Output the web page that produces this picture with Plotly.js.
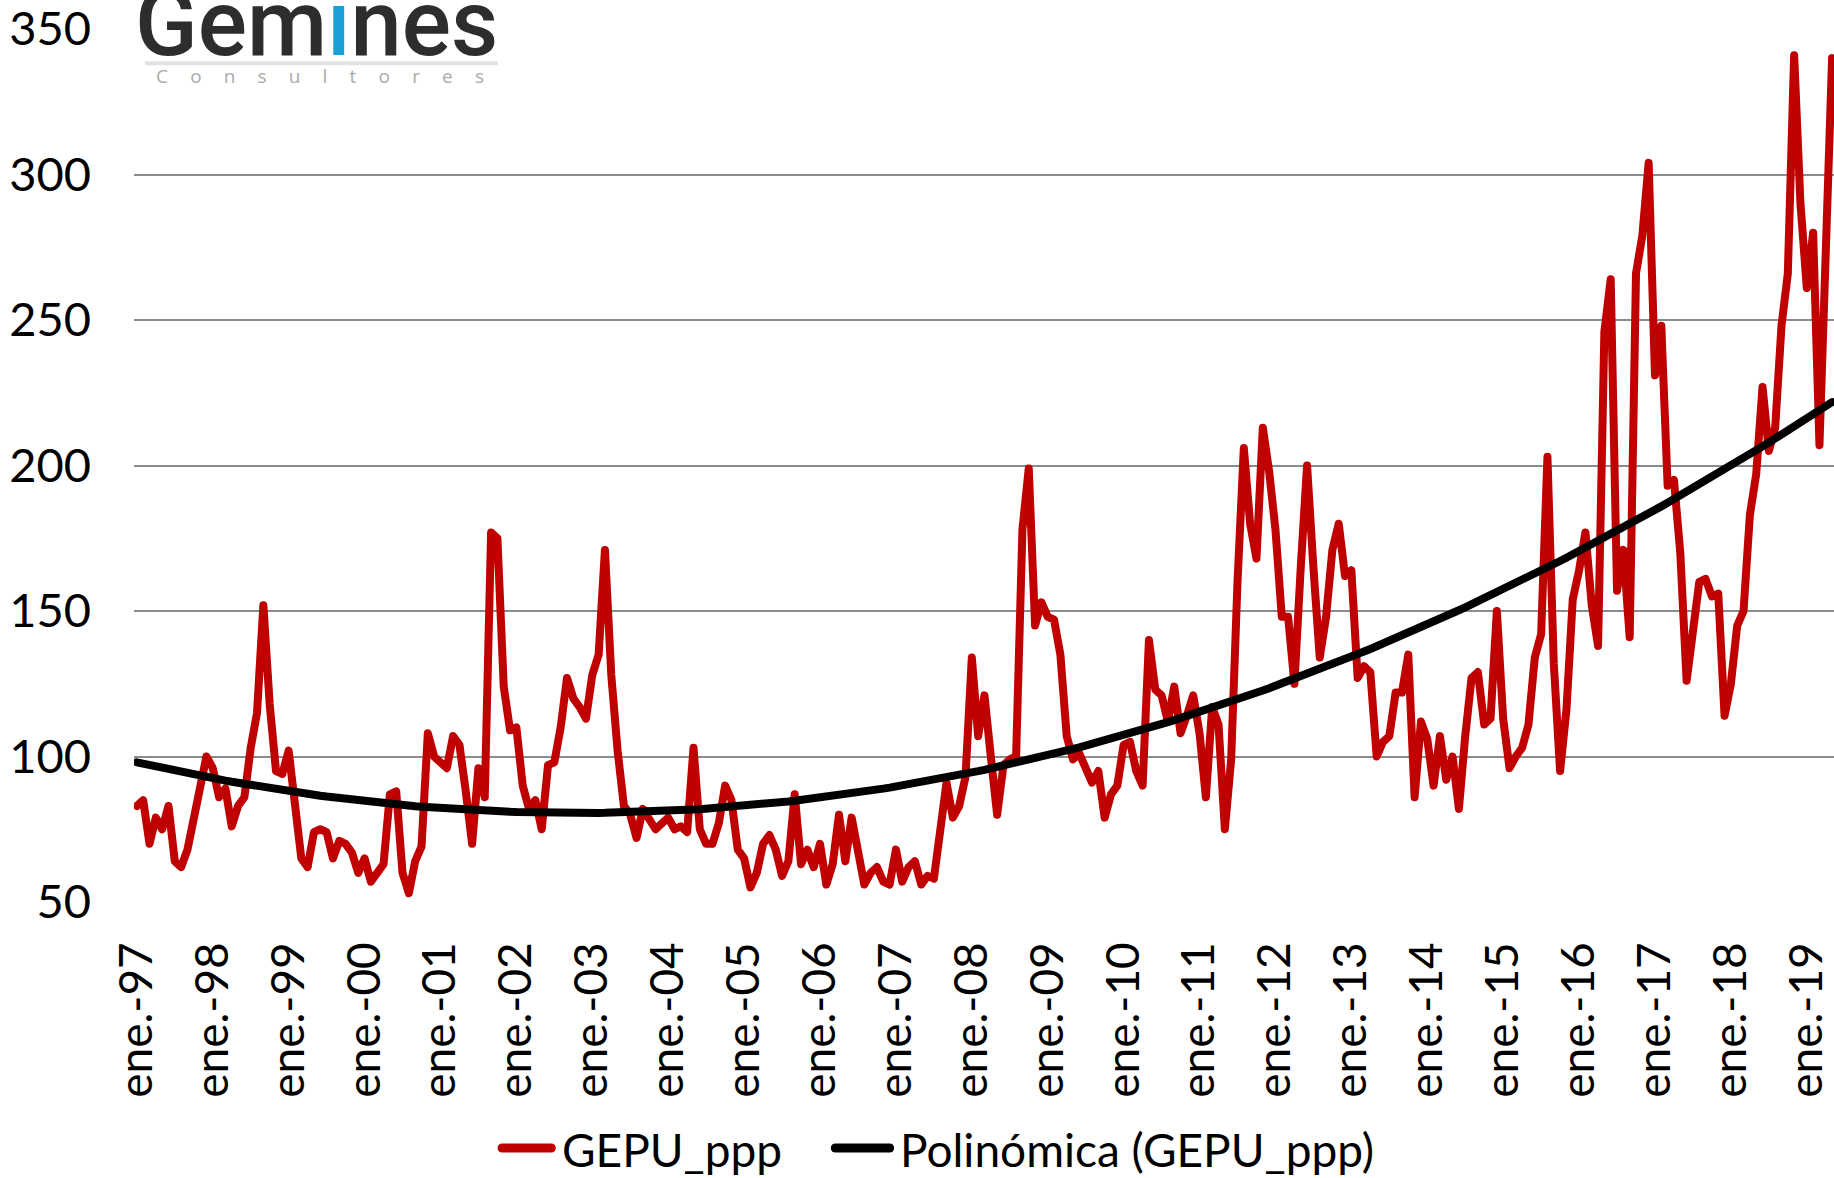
<!DOCTYPE html>
<html>
<head>
<meta charset="utf-8">
<script src="https://cdn.plot.ly/plotly-3.0.1.min.js"></script>
<style>
  html, body { margin: 0; padding: 0; background: #ffffff; }
  #chart { width: 1834px; height: 1178px; }
  .scatterlayer .js-line { stroke-linejoin: round; stroke-linecap: round; }
  .shapelayer path { stroke-linecap: round; }
</style>
</head>
<body>
<div id="chart"></div>
<script>
// Monthly GEPU_ppp values, starting January 1997
const startYear = 1997;
const gepu = [
  83, 85, 70, 79, 75, 83, 64, 62, 68, 79, 92, 100,        // 1997
  96, 86, 89, 76, 83, 86, 103, 115, 152, 118, 95, 94,     // 1998
  102, 80, 65, 62, 74, 75, 74, 65, 71, 70, 67, 60,        // 1999
  65, 57, 60, 63, 87, 88, 60, 53, 64, 69, 108, 100,       // 2000
  98, 96, 107, 104, 88, 70, 96, 86, 177, 175, 124, 109,   // 2001
  110, 90, 82, 85, 75, 97, 98, 110, 127, 120, 117, 113,   // 2002
  128, 135, 171, 128, 102, 83, 80, 72, 82, 79, 75, 77,    // 2003
  79, 75, 76, 74, 103, 75, 70, 70, 77, 90, 85, 68,        // 2004
  65, 55, 60, 70, 73, 68, 59, 64, 87, 63, 68, 62,         // 2005
  70, 56, 63, 80, 64, 79, 66, 56, 60, 62, 57, 56,         // 2006
  68, 57, 62, 64, 56, 59, 58, 76, 91, 79, 83, 93,         // 2007
  134, 107, 121, 100, 80, 97, 99, 100, 178, 199, 145, 153, // 2008
  148, 147, 135, 107, 99, 101, 96, 91, 95, 79, 87, 90,    // 2009
  104, 105, 95, 90, 140, 123, 121, 112, 124, 108, 114, 121, // 2010
  108, 86, 117, 111, 75, 99, 160, 206, 180, 168, 213, 198, // 2011
  178, 148, 148, 125, 165, 200, 165, 134, 148, 171, 180, 162, // 2012
  164, 127, 131, 129, 100, 105, 107, 122, 122, 135, 86, 112, // 2013
  106, 90, 107, 92, 100, 82, 107, 127, 129, 111, 113, 150, // 2014
  113, 96, 100, 103, 111, 134, 142, 203, 132, 95, 116, 154, // 2015
  164, 177, 152, 138, 246, 264, 157, 171, 141, 266, 279, 304, // 2016
  231, 248, 193, 195, 170, 126, 143, 160, 161, 155, 156, 114, // 2017
  125, 145, 150, 183, 197, 227, 205, 213, 248, 266, 341, 290, // 2018
  261, 280, 207, 272, 340                                  // 2019
];
const tickLabels = ['ene.-97','ene.-98','ene.-99','ene.-00','ene.-01','ene.-02','ene.-03',
  'ene.-04','ene.-05','ene.-06','ene.-07','ene.-08','ene.-09','ene.-10','ene.-11','ene.-12',
  'ene.-13','ene.-14','ene.-15','ene.-16','ene.-17','ene.-18','ene.-19'];
const seriesName = 'GEPU_ppp';
const trendName = 'Polinómica (GEPU_ppp)';
const seriesColor = '#C00000';
const trendColor = '#000000';

// month index along the time axis
const months = gepu.map((_, i) => i);
const tickVals = tickLabels.map((_, i) => i * 12);

// order-2 polynomial trendline (least squares), like the spreadsheet trendline
function polyFit2(xs, ys) {
  const n = xs.length;
  const mx = xs.reduce((a, b) => a + b, 0) / n;
  let s = [0, 0, 0, 0, 0], t = [0, 0, 0];
  xs.forEach((x0, i) => {
    const x = x0 - mx, y = ys[i];
    s[0] += 1; s[1] += x; s[2] += x * x; s[3] += x * x * x; s[4] += x * x * x * x;
    t[0] += y; t[1] += x * y; t[2] += x * x * y;
  });
  const A = [[s[0], s[1], s[2], t[0]], [s[1], s[2], s[3], t[1]], [s[2], s[3], s[4], t[2]]];
  for (let c = 0; c < 3; c++) {
    for (let r = c + 1; r < 3; r++) {
      const f = A[r][c] / A[c][c];
      for (let k = c; k < 4; k++) A[r][k] -= f * A[c][k];
    }
  }
  const coef = [0, 0, 0];
  for (let r = 2; r >= 0; r--) {
    let v = A[r][3];
    for (let k = r + 1; k < 3; k++) v -= A[r][k] * coef[k];
    coef[r] = v / A[r][r];
  }
  return xs.map(x0 => { const x = x0 - mx; return coef[0] + coef[1] * x + coef[2] * x * x; });
}
const trend = polyFit2(months, gepu);

const FONT = 'Lato, "Open Sans", sans-serif';

const traces = [
  {
    x: months, y: gepu, type: 'scatter', mode: 'lines', name: seriesName,
    line: { color: seriesColor, width: 8 }, hoverinfo: 'y', showlegend: false
  },
  {
    x: months, y: trend, type: 'scatter', mode: 'lines', name: trendName,
    line: { color: trendColor, width: 8 }, hoverinfo: 'y', showlegend: false
  }
];

// legend drawn as line samples + labels below the plot
const legY = -0.2818;
const legendShapes = [
  { type: 'line', xref: 'paper', yref: 'paper', x0: 0.2165, x1: 0.2455, y0: legY, y1: legY,
    line: { color: seriesColor, width: 9 } },
  { type: 'line', xref: 'paper', yref: 'paper', x0: 0.4125, x1: 0.4445, y0: legY, y1: legY,
    line: { color: trendColor, width: 9 } }
];
const legendTexts = [
  { xref: 'paper', yref: 'paper', x: 0.2505, y: -0.284, xanchor: 'left', yanchor: 'middle',
    showarrow: false, text: seriesName, font: { family: FONT, size: 46, color: '#000000' } },
  { xref: 'paper', yref: 'paper', x: 0.4495, y: -0.284, xanchor: 'left', yanchor: 'middle',
    showarrow: false, text: trendName, font: { family: FONT, size: 46, color: '#000000' } }
];

const layout = {
  width: 1834, height: 1178,
  margin: { l: 134, r: 0, t: 29, b: 276, pad: 0 },
  paper_bgcolor: '#ffffff', plot_bgcolor: '#ffffff',
  font: { family: FONT, size: 46, color: '#000000' },
  showlegend: false,
  xaxis: {
    range: [-0.45, 268.3], showgrid: false, zeroline: false, showline: false,
    tickmode: 'array', tickvals: tickVals, ticktext: tickLabels,
    tickangle: -90, ticks: '', ticklabelstandoff: 30,
    tickfont: { family: FONT, size: 46, color: '#000000' }
  },
  yaxis: {
    range: [50, 350], dtick: 50, tick0: 50, showgrid: true,
    gridcolor: '#8c8c8c', gridwidth: 2, zeroline: false, showline: false,
    ticks: '', ticklabelstandoff: 42, ticklabeloverflow: 'allow',
    tickfont: { family: FONT, size: 47, color: '#000000' }
  },
  shapes: [
    { type: 'rect', xref: 'paper', yref: 'paper', x0: 0.0065, x1: 0.224, y0: 0.93, y1: 1.04,
      fillcolor: '#ffffff', line: { width: 0 }, layer: 'above' },
    { type: 'rect', xref: 'paper', yref: 'paper', x0: 0.0065, x1: 0.214, y0: 0.9585, y1: 0.963,
      fillcolor: '#e2e2e2', line: { width: 0 }, layer: 'above' }
  ].concat(legendShapes),
  annotations: [
    { xref: 'paper', yref: 'paper', x: 0.1075, y: 0.9425, xanchor: 'center', yanchor: 'bottom',
      showarrow: false,
      text: 'Gem<span style="color:#1a9fd9">i</span>nes',
      font: { family: 'Roboto, "Open Sans", sans-serif', size: 92, color: '#2d2d2d', weight: 500 } },
    { xref: 'paper', yref: 'paper', x: 0.1095, y: 0.946, xanchor: 'center', yanchor: 'middle',
      showarrow: false,
      text: 'C\u2003\u2006o\u2003\u2006n\u2003\u2006s\u2003\u2006u\u2003\u2006l\u2003\u2006t\u2003\u2006o\u2003\u2006r\u2003\u2006e\u2003\u2006s',
      font: { family: '"Open Sans", sans-serif', size: 19, color: '#aaaaaa' } }
  ].concat(legendTexts)
};

Plotly.newPlot('chart', traces, layout, { displayModeBar: false, staticPlot: true });
</script>
</body>
</html>
